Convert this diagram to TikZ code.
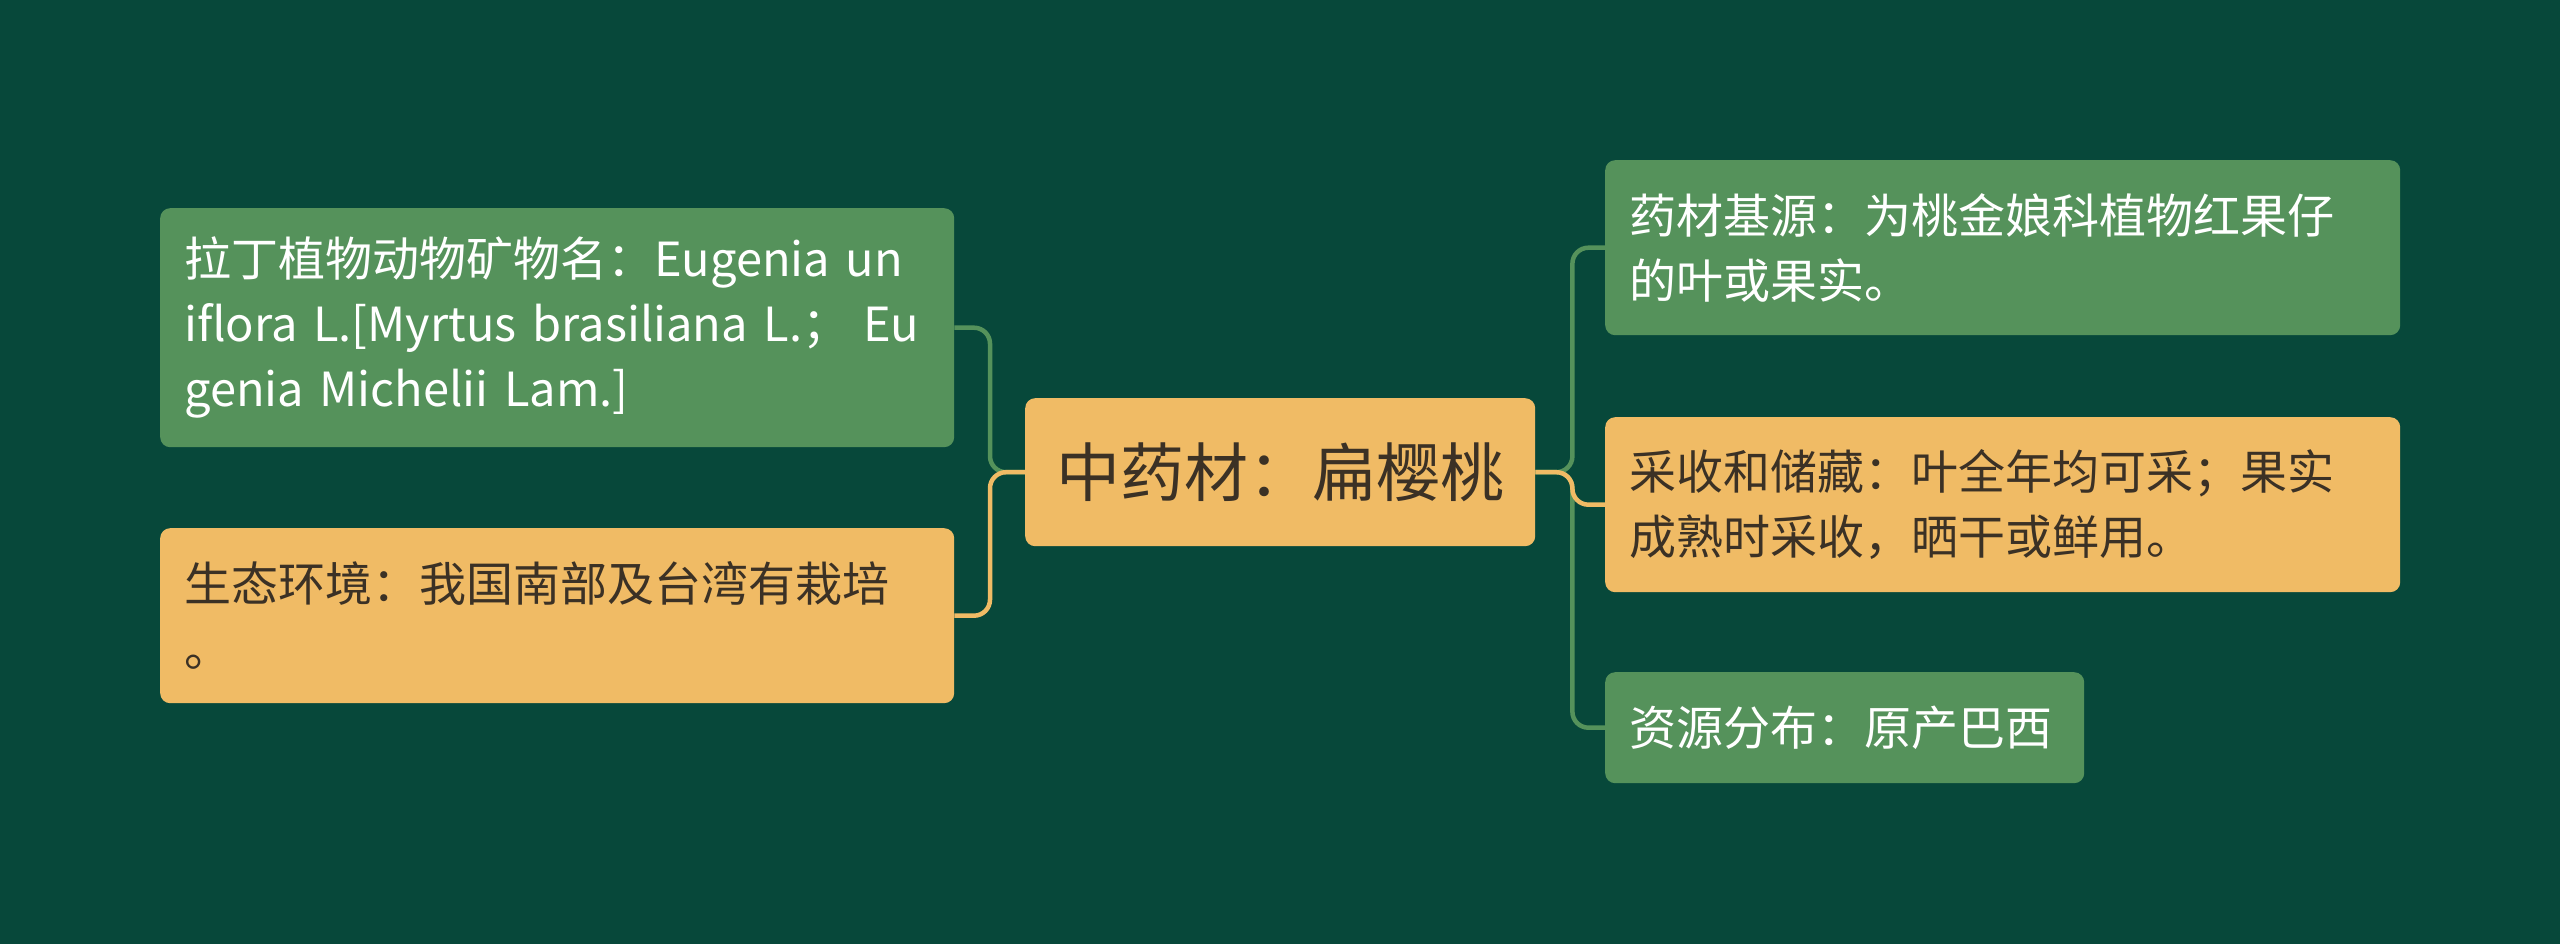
\documentclass[tikz,border=0pt]{standalone}
\usepackage{fontspec}
\setmainfont{Noto Sans CJK SC}
\definecolor{bg}{HTML}{07483A}
\definecolor{gbox}{HTML}{55925B}
\definecolor{ybox}{HTML}{F0BB65}
\definecolor{dtext}{HTML}{3B3125}
\pgfdeclarelayer{back}
\pgfsetlayers{back,main}
\begin{document}
\begin{tikzpicture}[x=1pt,y=-1pt,
  box/.style={rounded corners=10pt, inner xsep=24pt, inner ysep=0pt, align=left,
    font=\fontsize{47}{65}\selectfont, anchor=north west},
  gnode/.style={box, fill=gbox, text=white},
  ynode/.style={box, fill=ybox, text=dtext},
  link/.style={line width=4.5pt, rounded corners=16pt}]
\useasboundingbox (0,0) rectangle (2560,944);

\node[ynode, font=\fontsize{64}{80}\selectfont, align=center, minimum width=510pt, minimum height=148pt] (root) at (1025,398) {中药材：扁樱桃};

\node[gnode, text width=746pt, minimum height=239pt] (l1) at (160,208)
  {\mbox{拉丁植物动物矿物名：Eugenia un}\\\mbox{iflora L.[Myrtus brasiliana L.；\hspace{14pt}Eu}\\\mbox{genia Michelii Lam.]}};
\node[ynode, text width=746pt, minimum height=175pt] (l2) at (160,528)
  {生态环境：我国南部及台湾有栽培\\。};

\node[gnode, text width=747pt, minimum height=175pt] (r1) at (1605,160)
  {药材基源：为桃金娘科植物红果仔\\的叶或果实。};
\node[ynode, text width=747pt, minimum height=175pt] (r2) at (1605,417)
  {采收和储藏：叶全年均可采；果实\\成熟时采收，晒干或鲜用。};
\node[gnode, text width=431pt, minimum height=111pt] (r3) at (1605,672)
  {资源分布：原产巴西};

\begin{pgfonlayer}{back}
\fill[bg] (0,0) rectangle (2560,944);
\draw[link, gbox] (root.west) -- ++(-35,0) |- (l1.east);
\draw[link, ybox] (root.west) -- ++(-35,0) |- (l2.east);
\draw[link, gbox] (root.east) -- ++(37,0) |- (r1.west);
\draw[link, gbox] (root.east) -- ++(37,0) |- (r3.west);
\draw[link, ybox] (root.east) -- ++(37,0) |- (r2.west);
\end{pgfonlayer}
\end{tikzpicture}
\end{document}
